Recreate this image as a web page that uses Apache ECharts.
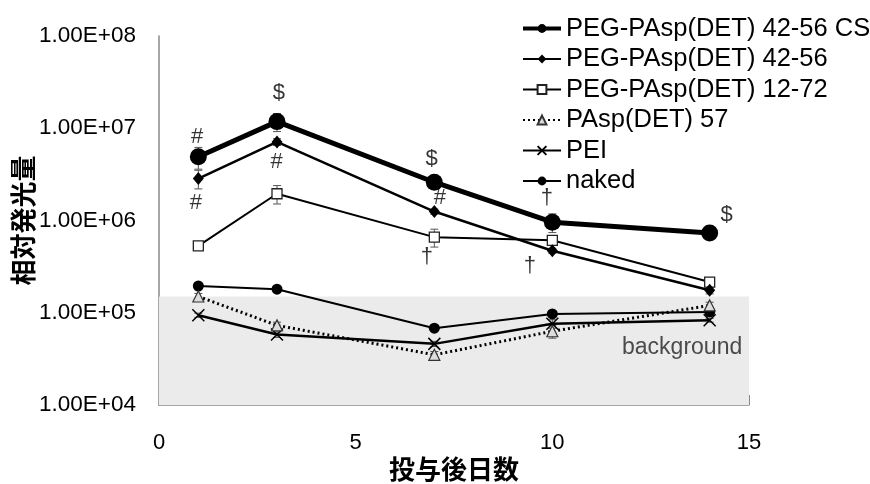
<!DOCTYPE html>
<html>
<head>
<meta charset="utf-8">
<script src="https://cdn.jsdelivr.net/npm/echarts@6/dist/echarts.min.js"></script>
<style>
  html, body { margin: 0; padding: 0; background: #fff; }
  #chart { width: 870px; height: 484px; }
</style>
</head>
<body>
<div id="chart"></div>
<script>
// Days after administration
const days = [1, 3, 7, 10, 14];

// Relative luminescence (mean and SD) for each carrier
const seriesNames = [
  'PEG-PAsp(DET) 42-56 CS',
  'PEG-PAsp(DET) 42-56',
  'PEG-PAsp(DET) 12-72',
  'PAsp(DET) 57',
  'PEI',
  'naked'
];
const csMean    = [4.9e6, 1.18e7, 2.6e6, 9.6e5, 7.3e5];
const csSd      = [1.3e6, 2.6e6, 1.5e5, 2.2e5, 0];
const p4256Mean = [2.85e6, 7.1e6, 1.25e6, 4.7e5, 1.75e5];
const p4256Sd   = [6.5e5, 6.0e5, 8.0e4, 3.0e4, 1.5e4];
const p1272Mean = [5.3e5, 1.95e6, 6.6e5, 6.1e5, 2.15e5];
const p1272Sd   = [2.0e4, 4.4e5, 1.45e5, 7.0e4, 2.5e4];
const paspMean  = [1.5e5, 7.3e4, 3.5e4, 6.3e4, 1.2e5];
const paspSd    = [1.2e4, 6.0e3, 3.0e3, 1.0e4, 1.0e4];
const peiMean   = [9.4e4, 5.8e4, 4.6e4, 7.6e4, 8.3e4];
const peiSd     = [5.0e3, 4.0e3, 3.0e3, 8.0e3, 4.0e3];
const nakedMean = [1.95e5, 1.8e5, 6.8e4, 9.7e4, 1.02e5];
const nakedSd   = [8.0e3, 6.0e3, 4.0e3, 6.0e3, 5.0e3];

// Background luminescence level
const backgroundLevel = 1.5e5;

// Significance marks: [day, level, symbol]
const marks = [
  [0.97, 8.0e6, '#'],
  [0.94, 1.55e6, '#'],
  [3.05, 2.4e7, '$'],
  [2.99, 4.3e6, '#'],
  [6.93, 4.7e6, '$'],
  [7.14, 1.74e6, '#'],
  [6.81, 4.06e5, '†'],
  [9.86, 1.74e6, '†'],
  [9.43, 3.2e5, '†'],
  [14.43, 1.15e6, '$']
];

// Axis ranges and titles
const xMin = 0, xMax = 15, xStep = 5;
const yMin = 1e4, yMax = 1e8;
const xTitle = '投与後日数';
const yTitle = '相対発光量';
const bgLabel = 'background';

const LATIN = '"Liberation Sans", Arial, sans-serif';
const CJK = '"Noto Sans CJK JP", sans-serif';

function sci(v) {
  const e = Math.round(Math.log10(v));
  const m = v / Math.pow(10, e);
  return m.toFixed(2) + 'E+' + String(e).padStart(2, '0');
}

function pairs(vals) { return days.map((d, i) => [d, vals[i]]); }
function errData(mean, sd) {
  return days.map((d, i) => [d, mean[i] - sd[i], mean[i] + sd[i]]);
}

function errorSeries(mean, sd) {
  return {
    type: 'custom',
    silent: true,
    z: 1,
    data: errData(mean, sd),
    renderItem: function (params, api) {
      const x = api.value(0);
      const lo = api.coord([x, api.value(1)]);
      const hi = api.coord([x, api.value(2)]);
      if (Math.abs(hi[1] - lo[1]) < 1) return null;
      const cap = 4;
      const style = { stroke: '#555', lineWidth: 1 };
      return {
        type: 'group',
        children: [
          { type: 'line', shape: { x1: hi[0], y1: hi[1], x2: lo[0], y2: lo[1] }, style: style },
          { type: 'line', shape: { x1: hi[0] - cap, y1: hi[1], x2: hi[0] + cap, y2: hi[1] }, style: style },
          { type: 'line', shape: { x1: lo[0] - cap, y1: lo[1], x2: lo[0] + cap, y2: lo[1] }, style: style }
        ]
      };
    }
  };
}

const crossPath = 'path://M0,0L10,10M10,0L0,10';

const chart = echarts.init(document.getElementById('chart'));
chart.setOption({
  animation: false,
  grid: { left: 159, right: 121, top: 36, bottom: 79, outerBoundsMode: 'none', containLabel: false },
  legend: {
    orient: 'vertical',
    left: 516,
    top: 10,
    itemWidth: 38,
    itemHeight: 11,
    itemGap: 3.5,
    textStyle: { fontFamily: LATIN, fontSize: 25.5, color: '#000', lineHeight: 27 },
    data: [
      { name: seriesNames[0], lineStyle: { width: 4 } },
      seriesNames[1], seriesNames[2], seriesNames[3], seriesNames[4], seriesNames[5]
    ]
  },
  xAxis: {
    type: 'value',
    min: xMin, max: xMax, interval: xStep,
    name: xTitle,
    nameLocation: 'middle',
    nameGap: 51,
    nameMoveOverlap: false,
    nameTextStyle: { fontFamily: CJK, fontSize: 26, fontWeight: 'bold', color: '#000' },
    axisLine: { lineStyle: { color: '#888', width: 1.5 } },
    axisTick: { inside: true, length: 10, lineStyle: { color: '#888' } },
    axisLabel: { fontFamily: LATIN, fontSize: 22, color: '#000', margin: 27 },
    splitLine: { show: false }
  },
  yAxis: {
    type: 'log',
    logBase: 10,
    min: yMin, max: yMax,
    name: yTitle,
    nameLocation: 'middle',
    nameRotate: 90,
    nameGap: 123,
    nameMoveOverlap: false,
    nameTextStyle: { fontFamily: CJK, fontSize: 26, fontWeight: 'bold', color: '#000' },
    axisLine: { show: true, lineStyle: { color: '#888', width: 1.5 } },
    axisTick: { show: false },
    axisLabel: { fontFamily: LATIN, fontSize: 22.5, color: '#000', margin: 23, formatter: sci },
    splitLine: { show: false }
  },
  series: [
    {
      name: 'bg',
      type: 'line',
      data: [],
      silent: true,
      markArea: {
        silent: true,
        itemStyle: { color: '#ebebeb' },
        data: [[{ coord: [xMin, yMin] }, { coord: [xMax + 0.05, backgroundLevel] }]]
      }
    },
    errorSeries(csMean, csSd),
    errorSeries(p4256Mean, p4256Sd),
    errorSeries(p1272Mean, p1272Sd),
    errorSeries(paspMean, paspSd),
    errorSeries(peiMean, peiSd),
    errorSeries(nakedMean, nakedSd),
    {
      name: seriesNames[5], type: 'line', data: pairs(nakedMean), z: 3,
      symbol: 'circle', symbolSize: 11,
      lineStyle: { color: '#000', width: 2 },
      itemStyle: { color: '#000' }
    },
    {
      name: seriesNames[4], type: 'line', data: pairs(peiMean), z: 3,
      symbol: crossPath, symbolSize: 12,
      lineStyle: { color: '#000', width: 2.5 },
      itemStyle: { color: 'rgba(0,0,0,0)', borderColor: '#000', borderWidth: 1.5 }
    },
    {
      name: seriesNames[3], type: 'line', data: pairs(paspMean), z: 3,
      symbol: 'triangle', symbolSize: 11,
      lineStyle: { color: '#000', width: 3, type: [2, 3] },
      itemStyle: { color: '#ddd', borderColor: '#333', borderWidth: 1.2 }
    },
    {
      name: seriesNames[2], type: 'line', data: pairs(p1272Mean), z: 4,
      symbol: 'rect', symbolSize: 10,
      lineStyle: { color: '#000', width: 2 },
      itemStyle: { color: '#fff', borderColor: '#222', borderWidth: 1.3 }
    },
    {
      name: seriesNames[1], type: 'line', data: pairs(p4256Mean), z: 4,
      symbol: 'diamond', symbolSize: [11, 13],
      lineStyle: { color: '#000', width: 2.5 },
      itemStyle: { color: '#000' }
    },
    {
      name: seriesNames[0], type: 'line', data: pairs(csMean), z: 5,
      symbol: 'circle', symbolSize: 17,
      lineStyle: { color: '#000', width: 5 },
      itemStyle: { color: '#000' }
    },
    {
      name: 'marks', type: 'scatter', silent: true, z: 6,
      symbolSize: 0,
      data: marks,
      label: {
        show: true, position: 'inside',
        formatter: p => p.data[2],
        fontFamily: LATIN, fontSize: 22, color: '#000'
      }
    },
    {
      name: 'bgText', type: 'scatter', silent: true, z: 6,
      symbolSize: 0,
      data: [[13.3, 4.15e4, bgLabel]],
      label: {
        show: true, position: 'inside',
        formatter: p => p.data[2],
        fontFamily: LATIN, fontSize: 23, color: '#222'
      }
    }
  ]
});
</script>
</body>
</html>
